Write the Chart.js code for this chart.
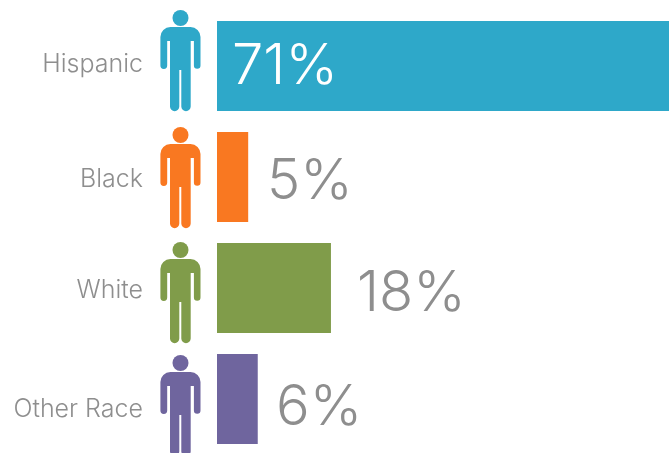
<!DOCTYPE html>
<html>
<head>
<meta charset="utf-8">
<script src="https://cdn.jsdelivr.net/npm/chart.js@4"></script>
<style>
html, body { margin: 0; padding: 0; background: #fff; overflow: hidden; width: 669px; height: 453px; }
canvas { display: block; }
</style>
</head>
<body>
<canvas id="raceChart" width="669" height="465"></canvas>
<script>
const categories = ['Hispanic', 'Black', 'White', 'Other Race'];
const barValues = [71, 4.9, 17.9, 6.4];
const valueLabels = ['71%', '5%', '18%', '6%'];
const barColors = ['#2ea8c9', '#f97821', '#809c4a', '#6f659e'];

// the labels and figures sit a little off the bar centres in the original
const nameShift = [-2, 2, 2, 10];
const figureShift = [-11, -5, -1, 1];
const valueShift = [1, 5, 6, 9];
const valueX = [232, 267, 357, 276];

const grey = '#8e8e8e';
const valueFont = '300 56px Inter';
const nameFont = '300 25px Inter';

function drawPerson(ctx, cx, top, color) {
    ctx.save();
    ctx.translate(cx - 180.5, top);
    ctx.fillStyle = color;
    // head
    ctx.beginPath();
    ctx.arc(180.5, 8, 8, 0, Math.PI * 2);
    ctx.fill();
    // body, drawn from the left shoulder round the outline
    ctx.beginPath();
    ctx.moveTo(170.5, 17);
    ctx.lineTo(190.5, 17);
    ctx.arcTo(200.5, 17, 200.5, 27, 10);
    ctx.lineTo(200.5, 55.5);
    ctx.arc(197.2, 55.5, 3.3, 0, Math.PI);
    ctx.lineTo(193.9, 31);
    ctx.lineTo(190.7, 31);
    ctx.lineTo(190.7, 96.5);
    ctx.arc(186, 96.5, 4.7, 0, Math.PI);
    ctx.lineTo(181.3, 60);
    ctx.lineTo(179.3, 60);
    ctx.lineTo(179.3, 96.5);
    ctx.arc(174.65, 96.5, 4.65, 0, Math.PI);
    ctx.lineTo(170, 31);
    ctx.lineTo(167.2, 31);
    ctx.lineTo(167.2, 55.5);
    ctx.arc(163.8, 55.5, 3.4, 0, Math.PI);
    ctx.lineTo(160.4, 27);
    ctx.arcTo(160.4, 17, 170.5, 17, 10);
    ctx.closePath();
    ctx.fill();
    ctx.restore();
}

const decorations = {
    id: 'decorations',
    afterDatasetsDraw(chart) {
        const ctx = chart.ctx;
        const y = chart.scales.y;
        ctx.save();
        ctx.textBaseline = 'middle';
        categories.forEach((name, i) => {
            const mid = y.getPixelForValue(i);
            ctx.font = nameFont;
            ctx.fillStyle = grey;
            ctx.textAlign = 'right';
            ctx.fillText(name, 143, mid + nameShift[i]);
            ctx.font = valueFont;
            ctx.fillStyle = i === 0 ? '#ffffff' : grey;
            ctx.textAlign = 'left';
            ctx.fillText(valueLabels[i], valueX[i], mid + valueShift[i]);
            drawPerson(ctx, 180.5, mid - 45 + figureShift[i], barColors[i]);
        });
        ctx.restore();
    }
};

new Chart(document.getElementById('raceChart').getContext('2d'), {
    type: 'bar',
    data: {
        labels: categories,
        datasets: [{
            data: barValues,
            backgroundColor: barColors,
            borderWidth: 0,
            categoryPercentage: 1,
            barPercentage: 90 / 111
        }]
    },
    options: {
        indexAxis: 'y',
        responsive: false,
        animation: false,
        layout: { padding: { left: 217, right: 0, top: 10.5, bottom: 10.5 } },
        plugins: { legend: { display: false }, tooltip: { enabled: false } },
        scales: {
            x: { display: false, min: 0, max: 71 },
            y: { display: false }
        }
    },
    plugins: [decorations]
});
</script>
</body>
</html>
